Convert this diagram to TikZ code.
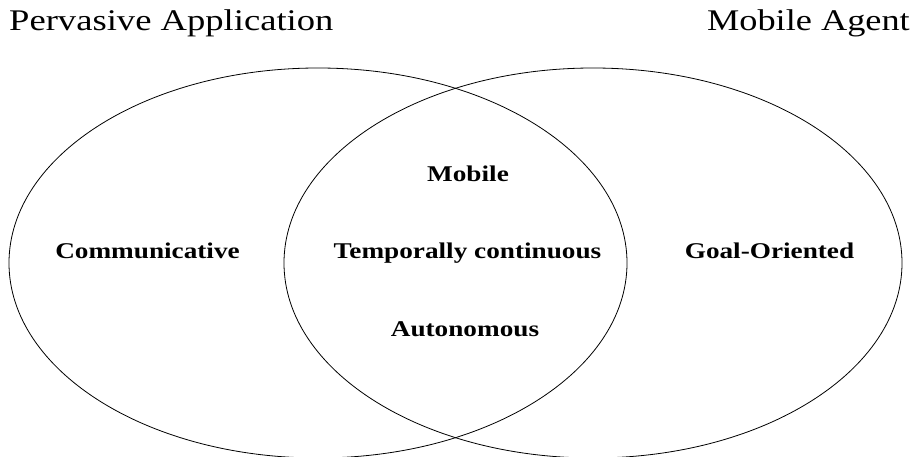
\documentclass[tikz,border=0pt]{standalone}
\usepackage{fontspec}
\setmainfont{Liberation Serif}
\begin{document}
\begin{tikzpicture}[x=1pt,y=-1pt,
  setline/.style={line width=0.8pt},
  title/.style={anchor=base,inner sep=0pt,font=\fontsize{30}{36}\selectfont},
  trait/.style={anchor=base,inner sep=0pt,font=\fontsize{22.5}{27}\selectfont\bfseries}]
  \useasboundingbox (0,0) rectangle (915,457);
  \clip (0,0) rectangle (915,457);
  % the two overlapping sets
  \draw[setline] (318,263) ellipse [x radius=309, y radius=195];
  \draw[setline] (593,263) ellipse [x radius=309, y radius=195];
  % set names
  \node[title,anchor=base west] (pa) at (9,31) {\scalebox{1.22}[1]{Pervasive Application}};
  \node[title,anchor=base east] (ma) at (910,31) {\scalebox{1.21}[1]{Mobile Agent}};
  % properties
  \node[trait] (comm) at (147.5,258) {\scalebox{1.21}[1]{Communicative}};
  \node[trait] (mob)  at (468,182)   {\scalebox{1.21}[1]{Mobile}};
  \node[trait] (temp) at (467.5,258) {\scalebox{1.21}[1]{Temporally continuous}};
  \node[trait] (auto) at (465,336)   {\scalebox{1.21}[1]{Autonomous}};
  \node[trait] (goal) at (769.5,258) {\scalebox{1.21}[1]{Goal-Oriented}};
\end{tikzpicture}
\end{document}
